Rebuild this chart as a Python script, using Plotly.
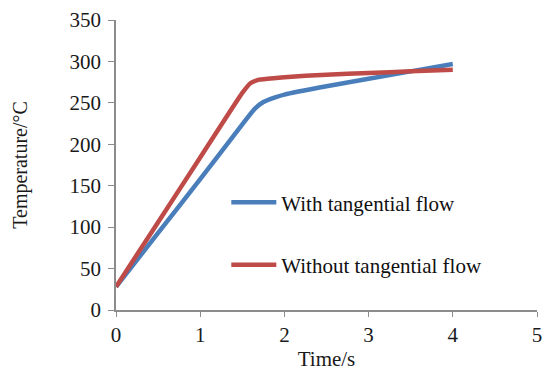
import plotly.graph_objects as go

blue_x = [0, 0.5, 1, 1.5, 1.65, 1.75, 1.9, 2.0, 2.5, 3, 3.5, 4]
blue_y = [28, 93, 158, 224, 243, 251, 257, 260, 270, 279, 288, 297]
red_x = [0, 0.5, 1, 1.5, 1.6, 1.7, 1.8, 2, 2.5, 3, 3.5, 4]
red_y = [28, 106, 184, 262, 274, 278, 279, 281, 284, 286, 288, 290]
x_ticks = [0, 1, 2, 3, 4, 5]
y_ticks = [0, 50, 100, 150, 200, 250, 300, 350]

font = "Liberation Serif, Times New Roman, serif"

fig = go.Figure()
fig.add_trace(go.Scatter(x=blue_x, y=blue_y, mode="lines", name="With tangential flow",
                         line=dict(color="#4A7EBB", width=4.5, shape="spline", smoothing=0.4),
                         legend="legend", showlegend=True))
fig.add_trace(go.Scatter(x=red_x, y=red_y, mode="lines", name="Without tangential flow",
                         line=dict(color="#BE4B48", width=4.5, shape="spline", smoothing=0.4),
                         legend="legend2", showlegend=True))

legend_common = dict(font=dict(family=font, size=21, color="#111"), bgcolor="rgba(0,0,0,0)",
                     xanchor="left", yanchor="middle", itemwidth=45, visible=True)
fig.update_layout(
    width=542, height=371,
    showlegend=True,
    margin=dict(l=116, r=5, t=20, b=61),
    paper_bgcolor="white", plot_bgcolor="white",
    font=dict(family=font, size=21, color="#1a1a1a"),
    legend=dict(x=0.262, y=0.37, **legend_common),
    legend2=dict(x=0.262, y=0.155, **legend_common),
    xaxis=dict(range=[0, 5], tickvals=x_ticks, showgrid=False, zeroline=False,
               showline=True, linecolor="#8c8c8c", linewidth=1.5, automargin=False,
               ticks="outside", ticklen=5, tickcolor="#8c8c8c", ticklabeloverflow="allow",
               title=dict(text="Time/s", font=dict(size=21), standoff=12)),
    yaxis=dict(range=[0, 350], tickvals=y_ticks, showgrid=False, zeroline=False,
               showline=True, linecolor="#8c8c8c", linewidth=1.5, automargin=False,
               ticks="outside", ticklen=6, tickcolor="#8c8c8c", ticklabeloverflow="allow",
               ticklabelstandoff=3,
               title=dict(text="Temperature/°C", font=dict(size=20), standoff=37)),
)
fig.write_html("out.html", config={"displayModeBar": False},
               post_script="document.body.style.margin='0px';")
